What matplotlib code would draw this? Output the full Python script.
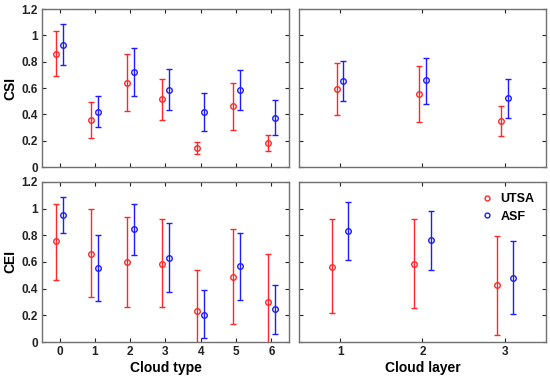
import matplotlib.pyplot as plt
import numpy as np

plt.rcParams['font.family'] = ['Liberation Sans', 'DejaVu Sans']
plt.rcParams['font.weight'] = 'bold'

# cloud type panels (x = 0..6)
types = [0, 1, 2, 3, 4, 5, 6]
csi_utsa = [0.86, 0.36, 0.64, 0.515, 0.147, 0.462, 0.18]
csi_utsa_lo = [0.69, 0.223, 0.424, 0.36, 0.10, 0.284, 0.119]
csi_utsa_hi = [1.035, 0.495, 0.855, 0.672, 0.19, 0.642, 0.241]
csi_asf = [0.93, 0.421, 0.723, 0.589, 0.419, 0.589, 0.375]
csi_asf_lo = [0.776, 0.304, 0.543, 0.431, 0.274, 0.436, 0.244]
csi_asf_hi = [1.083, 0.54, 0.906, 0.746, 0.566, 0.741, 0.507]

cei_utsa = [0.755, 0.663, 0.598, 0.588, 0.23, 0.49, 0.303]
cei_utsa_lo = [0.468, 0.335, 0.26, 0.26, -0.08, 0.135, -0.06]
cei_utsa_hi = [1.035, 0.995, 0.94, 0.923, 0.543, 0.848, 0.663]
cei_asf = [0.95, 0.558, 0.845, 0.633, 0.205, 0.568, 0.245]
cei_asf_lo = [0.818, 0.31, 0.655, 0.378, 0.028, 0.315, 0.063]
cei_asf_hi = [1.083, 0.803, 1.035, 0.893, 0.39, 0.818, 0.428]

# cloud layer panels (x = 1..3)
layers = [1, 2, 3]
lcsi_utsa = [0.591, 0.558, 0.348]
lcsi_utsa_lo = [0.393, 0.345, 0.233]
lcsi_utsa_hi = [0.789, 0.771, 0.462]
lcsi_asf = [0.652, 0.66, 0.523]
lcsi_asf_lo = [0.50, 0.479, 0.373]
lcsi_asf_hi = [0.807, 0.832, 0.672]

lcei_utsa = [0.563, 0.585, 0.428]
lcei_utsa_lo = [0.215, 0.253, 0.055]
lcei_utsa_hi = [0.918, 0.92, 0.798]
lcei_asf = [0.83, 0.763, 0.483]
lcei_asf_lo = [0.615, 0.54, 0.213]
lcei_asf_hi = [1.048, 0.985, 0.755]

red = '#ff2828'
blue = '#1c1cff'

fig = plt.figure(figsize=(5.5, 3.78), dpi=100)
ax_tl = fig.add_axes([0.0764, 0.558, 0.449, 0.418])
ax_tr = fig.add_axes([0.5436, 0.558, 0.449, 0.418])
ax_bl = fig.add_axes([0.0764, 0.095, 0.449, 0.424])
ax_br = fig.add_axes([0.5436, 0.095, 0.449, 0.424])


def draw(ax, x, off, y, lo, hi, col, label):
    x = np.array(x, dtype=float) + off
    y = np.array(y)
    err = [y - np.array(lo), np.array(hi) - y]
    ax.errorbar(x, y, yerr=err, fmt='o', color=col, mfc='none', mec=col,
                ms=4, mew=1.0, elinewidth=1.0, capsize=2, capthick=1.0, label=label)


draw(ax_tl, types, -0.1, csi_utsa, csi_utsa_lo, csi_utsa_hi, red, 'UTSA')
draw(ax_tl, types, 0.1, csi_asf, csi_asf_lo, csi_asf_hi, blue, 'ASF')
draw(ax_bl, types, -0.1, cei_utsa, cei_utsa_lo, cei_utsa_hi, red, 'UTSA')
draw(ax_bl, types, 0.1, cei_asf, cei_asf_lo, cei_asf_hi, blue, 'ASF')
draw(ax_tr, layers, -0.04, lcsi_utsa, lcsi_utsa_lo, lcsi_utsa_hi, red, 'UTSA')
draw(ax_tr, layers, 0.04, lcsi_asf, lcsi_asf_lo, lcsi_asf_hi, blue, 'ASF')
draw(ax_br, layers, -0.1, lcei_utsa, lcei_utsa_lo, lcei_utsa_hi, red, 'UTSA')
draw(ax_br, layers, 0.1, lcei_asf, lcei_asf_lo, lcei_asf_hi, blue, 'ASF')

yt = [0, 0.2, 0.4, 0.6, 0.8, 1, 1.2]
ytl = ['0', '0.2', '0.4', '0.6', '0.8', '1', '1.2']
for ax in [ax_tl, ax_tr, ax_bl, ax_br]:
    ax.set_ylim(0, 1.2)
    ax.set_yticks(yt)
    ax.tick_params(direction='in', top=True, right=True, length=3, width=0.8,
                   labelsize=8.5, colors='#222222', pad=3)
    for s in ax.spines.values():
        s.set_color('#707070')
        s.set_linewidth(1.0)
for ax in [ax_tl, ax_bl]:
    ax.set_xlim(-0.5, 6.5)
    ax.set_xticks(types)
    ax.set_yticklabels(ytl)
for ax in [ax_tr, ax_br]:
    ax.set_xlim(0.5, 3.5)
    ax.set_xticks(layers)
    ax.set_yticklabels([])
for ax in [ax_tl, ax_tr]:
    ax.set_xticklabels([])

ax_tl.set_ylabel('CSI', fontsize=10, fontweight='bold', labelpad=3)
ax_bl.set_ylabel('CEI', fontsize=10, fontweight='bold', labelpad=3)
ax_bl.set_xlabel('Cloud type', fontsize=10, fontweight='bold', labelpad=2)
ax_br.set_xlabel('Cloud layer', fontsize=10, fontweight='bold', labelpad=2)

h, l = ax_br.get_legend_handles_labels()
h = [plt.Line2D([], [], ls='none', marker='o', mfc='none', mec=c, ms=3.5, mew=1.0) for c in [red, blue]]
ax_br.legend(h, l, loc='upper right', frameon=False, fontsize=9, handletextpad=0.5,
             handlelength=1.2, borderaxespad=0.5, labelspacing=0.45, bbox_to_anchor=(1.0, 1.0))

fig.savefig('out.png', dpi=100)
